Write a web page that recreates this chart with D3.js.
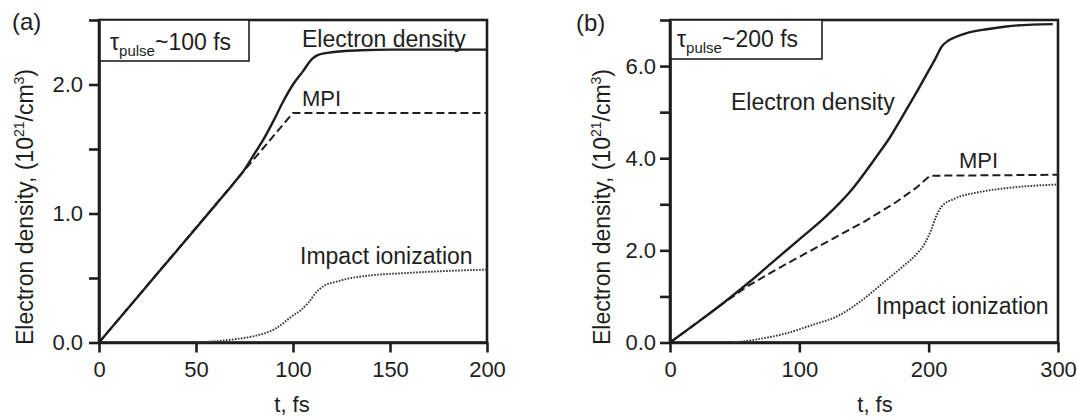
<!DOCTYPE html>
<html>
<head>
<meta charset="utf-8">
<script src="https://cdn.jsdelivr.net/npm/d3@7"></script>
<style>
  html, body { margin: 0; padding: 0; background: #fff; }
  svg { display: block; font-family: "Liberation Sans", Arial, sans-serif; }
</style>
</head>
<body>
<svg id="chart" width="1077" height="419"></svg>
<script>
// ---------------- DATA ----------------
// Panel (a): tau_pulse ~ 100 fs
const aXTicks = [0, 50, 100, 150, 200];
const aYTicks = [0, 0.5, 1.0, 1.5, 2.0, 2.5];
const aYLabels = [0, 1.0, 2.0];
const aDensity = [[0,0],[20,0.355],[40,0.71],[60,1.065],[70,1.245],[75,1.34],[80,1.46],[85,1.58],[90,1.72],[95,1.87],[100,2.0],[105,2.1],[110,2.2],[113,2.23],[120,2.25],[135,2.265],[150,2.27],[200,2.27]];
const aMPI = [[0,0],[100,1.78],[200,1.78]];
const aImpact = [[50,0],[60,0.01],[70,0.025],[80,0.05],[90,0.10],[95,0.15],[100,0.21],[104,0.25],[108,0.31],[112,0.39],[116,0.44],[122,0.47],[130,0.50],[140,0.52],[160,0.54],[180,0.555],[200,0.565]];

// Panel (b): tau_pulse ~ 200 fs
const bXTicks = [0, 100, 200, 300];
const bYTicks = [0, 1, 2, 3, 4, 5, 6, 7];
const bYLabels = [0, 2.0, 4.0, 6.0];
const bDensity = [[0,0],[20,0.41],[40,0.83],[60,1.28],[80,1.76],[100,2.24],[120,2.72],[140,3.3],[160,4.05],[170,4.45],[180,4.92],[190,5.4],[200,5.9],[205,6.15],[210,6.42],[215,6.55],[220,6.62],[230,6.72],[245,6.8],[260,6.86],[280,6.9],[296,6.91]];
const bMPI = [[0,0],[20,0.41],[40,0.83],[60,1.22],[80,1.55],[100,1.86],[125,2.24],[150,2.62],[175,3.05],[190,3.35],[201,3.62],[300,3.64]];
const bImpact = [[50,0],[70,0.08],[90,0.2],[110,0.38],[130,0.58],[150,0.95],[165,1.3],[180,1.65],[190,1.9],[197,2.15],[202,2.45],[206,2.75],[210,2.95],[220,3.12],[240,3.27],[260,3.35],[280,3.4],[300,3.43]];

const seriesNames = ["Electron density", "MPI", "Impact ionization"];
const yTitleParts = ["Electron density, (10", "21", "/cm", "3", ")"];
const xTitle = "t, fs";

// ---------------- DRAW ----------------
const svg = d3.select("#chart");
const ink = "#1e1e1e";

function drawPanel(p) {
  const x = d3.scaleLinear().domain(p.xDomain).range(p.xRange);
  const y = d3.scaleLinear().domain(p.yDomain).range([342.5, 20]);
  const g = svg.append("g");

  // frame
  g.append("rect")
    .attr("x", p.xRange[0]).attr("y", 20)
    .attr("width", p.xRange[1] - p.xRange[0]).attr("height", 342.5 - 20)
    .attr("fill", "none").attr("stroke", ink).attr("stroke-width", 2.6);

  // tau box
  g.append("rect")
    .attr("x", p.xRange[0]).attr("y", 20)
    .attr("width", p.tauBox[0]).attr("height", p.tauBox[1])
    .attr("fill", "#fff").attr("stroke", ink).attr("stroke-width", 1.6);
  const tt = g.append("text").attr("x", p.tauPos[0]).attr("y", p.tauPos[1])
    .attr("font-size", 23).attr("fill", ink);
  tt.append("tspan").text("τ");
  tt.append("tspan").attr("font-size", 15).attr("dy", 6).text("pulse");
  tt.append("tspan").attr("dy", -6).text(p.tauText);

  // axes
  const xAxis = d3.axisBottom(x).tickValues(p.xTicks).tickSize(10).tickSizeOuter(0).tickPadding(9)
    .tickFormat(d3.format("d"));
  const gx = g.append("g").attr("transform", "translate(0,342.5)").call(xAxis);
  const yAxis = d3.axisLeft(y).tickValues(p.yTicks).tickSize(10).tickSizeOuter(0).tickPadding(p.yPad)
    .tickFormat(d => p.yLabels.includes(d) ? d3.format(".1f")(d) : "");
  const gy = g.append("g").attr("transform", `translate(${p.xRange[0]},0)`).call(yAxis);
  [gx, gy].forEach(a => {
    a.select(".domain").attr("stroke", ink).attr("stroke-width", 2.6);
    a.selectAll(".tick line").attr("stroke", ink).attr("stroke-width", 2.6);
    a.selectAll(".tick text").attr("font-size", 22).attr("fill", ink)
      .attr("font-family", "Liberation Sans, Arial, sans-serif");
  });

  // curves
  const smooth = d3.line().x(d => x(d[0])).y(d => y(d[1])).curve(d3.curveMonotoneX);
  const straight = d3.line().x(d => x(d[0])).y(d => y(d[1]));
  g.append("path").datum(p.mpi).attr("d", straight).attr("fill", "none")
    .attr("stroke", ink).attr("stroke-width", 2).attr("stroke-dasharray", "8,4");
  g.append("path").datum(p.impact).attr("d", smooth).attr("fill", "none")
    .attr("stroke", "#333").attr("stroke-width", 1.9).attr("stroke-dasharray", "1.6,1.4");
  g.append("path").datum(p.density).attr("d", smooth).attr("fill", "none")
    .attr("stroke", ink).attr("stroke-width", 2.4);

  // curve labels
  p.labels.forEach((pos, i) => {
    g.append("text").attr("x", pos[0]).attr("y", pos[1]).attr("font-size", pos[2])
      .attr("fill", ink).text(seriesNames[i]);
  });

  // axis titles
  g.append("text").attr("x", p.xTitlePos[0]).attr("y", 412).attr("text-anchor", "middle")
    .attr("font-size", 22).attr("fill", ink).text(xTitle);
  const yt = g.append("text")
    .attr("transform", `translate(${p.yTitleX},207) rotate(-90)`)
    .attr("text-anchor", "middle").attr("font-size", 23).attr("fill", ink);
  yt.append("tspan").text(yTitleParts[0]);
  yt.append("tspan").attr("font-size", 14).attr("dy", -9).text(yTitleParts[1]);
  yt.append("tspan").attr("dy", 9).text(yTitleParts[2]);
  yt.append("tspan").attr("font-size", 14).attr("dy", -9).text(yTitleParts[3]);
  yt.append("tspan").attr("dy", 9).text(yTitleParts[4]);

  // panel tag
  g.append("text").attr("x", p.tagPos[0]).attr("y", p.tagPos[1]).attr("font-size", 24)
    .attr("fill", ink).text(p.tag);
}

drawPanel({
  tag: "(a)", tagPos: [12, 30],
  xDomain: [0, 200], xRange: [99, 487], yDomain: [0, 2.5],
  xTicks: aXTicks, yTicks: aYTicks, yLabels: aYLabels, yPad: 6,
  density: aDensity, mpi: aMPI, impact: aImpact,
  tauBox: [150, 41], tauPos: [110, 50], tauText: "~100 fs",
  labels: [[302, 47, 23], [302, 106, 22], [300, 264, 23]],
  xTitlePos: [292], yTitleX: 33
});

drawPanel({
  tag: "(b)", tagPos: [576, 31],
  xDomain: [0, 300], xRange: [670, 1058], yDomain: [0, 7],
  xTicks: bXTicks, yTicks: bYTicks, yLabels: bYLabels, yPad: 4,
  density: bDensity, mpi: bMPI, impact: bImpact,
  tauBox: [152, 39], tauPos: [677, 47], tauText: "~200 fs",
  labels: [[731, 110, 23], [959, 168, 22], [876, 314, 23]],
  xTitlePos: [875], yTitleX: 610
});
</script>
</body>
</html>
